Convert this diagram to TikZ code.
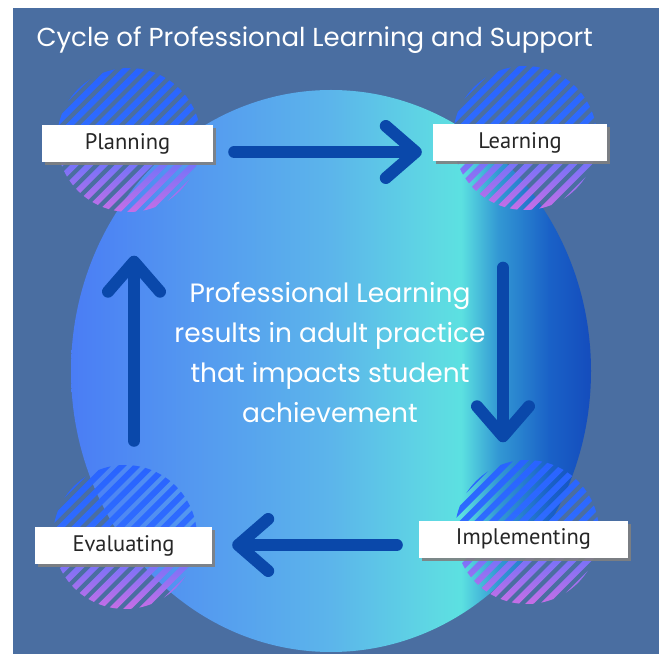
\documentclass[tikz,border=0pt]{standalone}
\usepackage{fontspec}
\setmainfont{PT Sans}
\newfontfamily\handfont{Poppins}
\usepackage{xcolor}
\definecolor{slate}{RGB}{74,110,161}
\definecolor{arrowblue}{RGB}{10,72,170}
\definecolor{stripetop}{RGB}{40,100,255}
\definecolor{stripebot}{RGB}{200,110,230}
\usetikzlibrary{arrows.meta, shadows}
\pgfdeclarehorizontalshading{poolshade}{100bp}{rgb(0bp)=(0.29,0.49,0.96); rgb(25bp)=(0.29,0.49,0.96); rgb(37bp)=(0.33,0.60,0.94); rgb(50bp)=(0.36,0.71,0.92); rgb(60bp)=(0.37,0.85,0.89); rgb(62.5bp)=(0.36,0.88,0.88); rgb(66bp)=(0.20,0.60,0.83); rgb(71bp)=(0.10,0.38,0.78); rgb(75bp)=(0.08,0.30,0.74); rgb(100bp)=(0.08,0.30,0.74)}
\pgfdeclareverticalshading{stripeshade}{100bp}{rgb(0bp)=(0.78,0.43,0.90); rgb(25bp)=(0.78,0.43,0.90); rgb(42bp)=(0.45,0.45,0.98); rgb(55bp)=(0.18,0.42,1.0); rgb(75bp)=(0.16,0.39,1.0); rgb(100bp)=(0.16,0.39,1.0)}

\begin{document}
\begin{tikzpicture}[x=1pt, y=1pt,
  stage/.style={fill=white, minimum height=37pt, inner sep=0pt, text=black!85, font=\fontsize{22.5}{26}\selectfont, drop shadow={shadow xshift=3pt, shadow yshift=-3pt, fill=gray, opacity=0.9}},
  cyc/.style={draw=arrowblue, line width=12pt, line cap=round, -{Straight Barb[length=30pt, width=52pt, round]}}]
  \useasboundingbox (0,0) rectangle (659,654);
  % background panel
  \fill[slate] (13,0) rectangle (659,646);
  % big gradient disc
  \shade[shading=poolshade] (331,283) ellipse [x radius=260, y radius=281];
  % striped circles behind the labels
  \foreach \cx/\cy in {129/514, 525/516, 527/122, 125/117} {
    \begin{scope}[shift={(\cx,\cy)}]
      \clip (0,0) circle (72);
      \clip[rotate=-45] \foreach \k in {-7,...,7} {(\k*10.5-3,-80) rectangle (\k*10.5+3,80)};
      \shade[shading=stripeshade] (-72,-72) rectangle (72,72);
    \end{scope}
  }

  % title
  \node[anchor=west, text=white, font=\handfont\fontsize{26}{30}\selectfont] (title) at (33,614) {Cycle of Professional Learning and Support};

  % stage labels
  \node[stage, minimum width=171pt] (plan) at (127.5,510) {Planning};
  \node[stage, minimum width=174pt] (learn) at (520,511) {Learning};
  \node[stage, minimum width=209pt] (impl) at (523.5,115) {Implementing};
  \node[stage, minimum width=177pt] (eval) at (123.5,108.5) {Evaluating};

  % centre message
  \node[align=center, text=white, font=\handfont\fontsize{26.5}{40}\selectfont] (message) at (330,302) {Professional Learning\\results in adult practice\\that impacts student\\achievement};

  % cycle arrows
  \draw[cyc, shorten <=21pt, shorten >=11pt] ([yshift=-8pt]plan.east) -- ([yshift=-8pt]plan.east -| learn.west);
  \draw[cyc, shorten <=106pt, shorten >=78pt] ([xshift=-17pt]learn.south) -- ([xshift=-17pt]learn.south |- impl.north);
  \draw[cyc, shorten <=22pt, shorten >=20pt] ([yshift=-6pt]impl.west) -- ([yshift=-6pt]impl.west -| eval.east);
  \draw[cyc, shorten <=86pt, shorten >=93pt] ([xshift=10.5pt]eval.north) -- ([xshift=10.5pt]eval.north |- plan.south);
\end{tikzpicture}
\end{document}
